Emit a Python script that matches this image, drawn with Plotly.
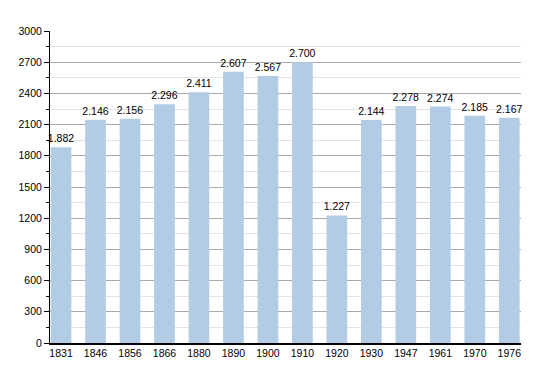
import plotly.graph_objects as go

years = ["1831", "1846", "1856", "1866", "1880", "1890", "1900", "1910", "1920", "1930", "1947", "1961", "1970", "1976"]
population = [1882, 2146, 2156, 2296, 2411, 2607, 2567, 2700, 1227, 2144, 2278, 2274, 2185, 2167]
y_ticks = [0, 300, 600, 900, 1200, 1500, 1800, 2100, 2400, 2700, 3000]

FONT = "Liberation Sans, Arial, sans-serif"

fig = go.Figure(go.Bar(
    x=years, y=population,
    marker=dict(color="#b3cce6", line=dict(width=0)),
    width=0.6,
    texttemplate="%{y:,}", textposition="outside",
    constraintext="none",
    textfont=dict(family=FONT, size=10.5, color="#000"),
    cliponaxis=False,
))

fig.update_layout(
    width=550, height=373,
    margin=dict(l=42, r=37, t=23, b=38, autoexpand=False),
    paper_bgcolor="white", plot_bgcolor="white",
    separators=",.",
    showlegend=False,
    font=dict(family=FONT, size=10.5, color="#000"),
    xaxis=dict(
        type="category", range=[-0.32, 13.34], automargin=False,
        showline=True, linecolor="#000", linewidth=1.5,
        ticks="", showgrid=False, tickfont=dict(size=10.5),
    ),
    yaxis=dict(
        range=[0, 3000], tickvals=y_ticks, automargin=False,
        showline=True, linecolor="#000", linewidth=1,
        ticks="outside", ticklen=5, tickcolor="#000",
        showgrid=True, gridcolor="#aaaaaa", gridwidth=1,
        minor=dict(dtick=150, showgrid=True, gridcolor="#e3e3e3", ticks="outside", ticklen=3, tickcolor="#000"),
        tickfont=dict(size=10.5), zeroline=False,
    ),
)

fig.write_html("out.html")
